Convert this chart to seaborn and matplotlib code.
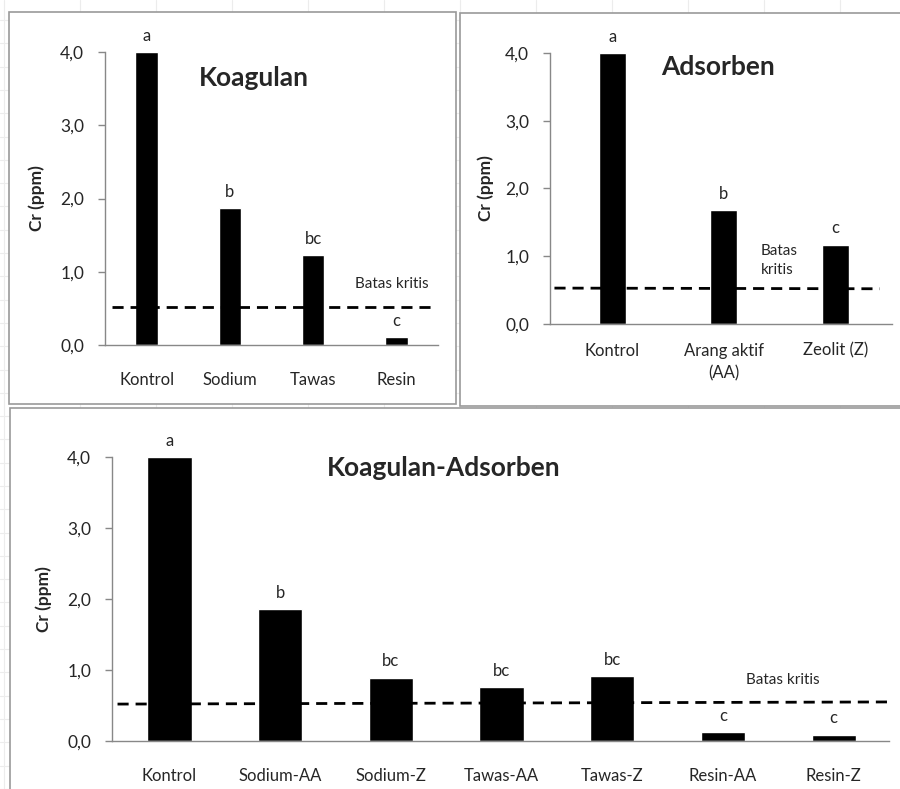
import matplotlib
matplotlib.use("Agg")
import matplotlib.pyplot as plt
from matplotlib.patches import Rectangle
import numpy as np
import seaborn as sns

# --- data ---
koag_cats = ["Kontrol", "Sodium", "Tawas", "Resin"]
koag_vals = [4.0, 1.87, 1.23, 0.11]
koag_letters = ["a", "b", "bc", "c"]

ads_cats = ["Kontrol", "Arang aktif\n(AA)", "Zeolit (Z)"]
ads_vals = [4.0, 1.68, 1.17]
ads_letters = ["a", "b", "c"]

ka_cats = ["Kontrol", "Sodium-AA", "Sodium-Z", "Tawas-AA", "Tawas-Z", "Resin-AA", "Resin-Z"]
ka_vals = [4.0, 1.86, 0.89, 0.76, 0.91, 0.12, 0.09]
ka_letters = ["a", "b", "bc", "bc", "bc", "c", "c"]

batas_koag = [0.52, 0.52]
batas_ads = [0.53, 0.52]
batas_ka = [0.52, 0.55]

y_ticks = [0.0, 1.0, 2.0, 3.0, 4.0]
y_ticklabels = ["0,0", "1,0", "2,0", "3,0", "4,0"]

sns.set_style("white")
plt.rcParams["font.family"] = ["Lato", "DejaVu Sans"]

W, H = 900, 789
fig = plt.figure(figsize=(W / 100, H / 100), dpi=100)

# spreadsheet background with faint cell lines and white chart frames
bg = fig.add_axes([0, 0, 1, 1])
bg.set_xlim(0, W)
bg.set_ylim(H, 0)
bg.axis("off")
for gx in np.arange(4, W, 76):
    bg.axvline(gx, color="#ececec", lw=0.8, zorder=0)
for gy in np.arange(20, H, 23.3):
    bg.axhline(gy, color="#ececec", lw=0.8, zorder=0)
for (x0, y0, x1, y1) in [(9, 12, 456, 404), (460, 13, 905, 406), (10, 408, 905, 795)]:
    bg.add_patch(Rectangle((x0, y0), x1 - x0, y1 - y0, facecolor="white",
                           edgecolor="#9a9a9a", lw=1.2, zorder=1))


def px_axes(left, right, top, bottom):
    return fig.add_axes([left / W, 1 - bottom / H, (right - left) / W, (bottom - top) / H])


def draw_panel(ax, cats, vals, letters, batas, bar_w, xlim, line_x):
    sns.barplot(x=cats, y=vals, color="black", saturation=1, width=bar_w, ax=ax, zorder=2)
    ax.set_facecolor("none")
    ax.set_xlim(*xlim)
    ax.set_ylim(0, 4.0)
    ax.set_yticks(y_ticks)
    ax.set_yticklabels(y_ticklabels)
    ax.plot(line_x, batas, color="black", lw=2, ls=(0, (4, 2.5)), zorder=3)
    for i, (v, t) in enumerate(zip(vals, letters)):
        ax.annotate(t, (i, v), xytext=(0, 6), textcoords="offset points",
                    ha="center", va="bottom", fontsize=12)
    for s in ["top", "right"]:
        ax.spines[s].set_visible(False)
    for s in ["left", "bottom"]:
        ax.spines[s].set_color("#888888")
        ax.spines[s].set_linewidth(1)
    ax.tick_params(axis="y", left=True, length=5, width=1, color="#888888",
                   pad=10, labelsize=12.5)
    ax.tick_params(axis="x", bottom=False, pad=16, labelsize=12)
    ax.set_xlabel("")
    ax.set_ylabel("Cr (ppm)", fontsize=12.5, fontweight="bold")


# Koagulan
ax1 = px_axes(105, 438, 52, 345)
draw_panel(ax1, koag_cats, koag_vals, koag_letters, batas_koag, 0.27,
           (-0.5, 3.5), [-0.41, 3.41])
ax1.yaxis.set_label_coords(-0.18, 0.5)
ax1.text(2.95, 0.83, "Batas kritis", ha="center", va="center", fontsize=11)
ax1.text(0.447, 0.91, "Koagulan", transform=ax1.transAxes, ha="center", va="center",
         fontsize=19, fontweight="bold")

# Adsorben
ax2 = px_axes(550, 892, 53, 324)
draw_panel(ax2, ads_cats, ads_vals, ads_letters, batas_ads, 0.24,
           (-0.56, 2.51), [-0.52, 2.4])
ax2.yaxis.set_label_coords(-0.165, 0.5)
ax2.tick_params(axis="x", pad=10)
for lbl in ax2.get_xticklabels():
    lbl.set_linespacing(1.5)
ax2.text(1.33, 0.94, "Batas\nkritis", ha="left", va="center", fontsize=11,
         linespacing=1.4)
ax2.text(0.49, 0.95, "Adsorben", transform=ax2.transAxes, ha="center", va="center",
         fontsize=19, fontweight="bold")

# Koagulan-Adsorben
ax3 = px_axes(112, 889, 457, 741)
draw_panel(ax3, ka_cats, ka_vals, ka_letters, batas_ka, 0.40,
           (-0.52, 6.5), [-0.47, 6.49])
ax3.yaxis.set_label_coords(-0.077, 0.5)
ax3.text(5.54, 0.86, "Batas kritis", ha="center", va="center", fontsize=11)
ax3.text(0.427, 0.96, "Koagulan-Adsorben", transform=ax3.transAxes, ha="center",
         va="center", fontsize=19, fontweight="bold")

fig.savefig("out.png", dpi=100)
